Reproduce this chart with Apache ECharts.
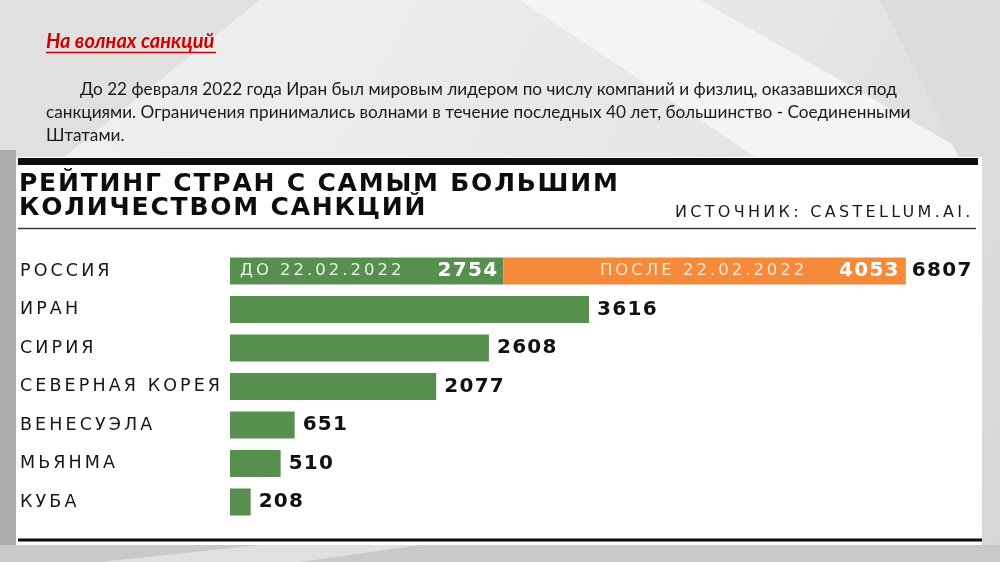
<!DOCTYPE html>
<html>
<head>
<meta charset="utf-8">
<script src="https://cdn.jsdelivr.net/npm/echarts@6/dist/echarts.min.js"></script>
<style>
html,body{margin:0;padding:0;background:#ececec;}
#main{width:1000px;height:562px;}
</style>
</head>
<body>
<div id="main"></div>
<script>
// ---- data ----
const countries = ['РОССИЯ', 'ИРАН', 'СИРИЯ', 'СЕВЕРНАЯ КОРЕЯ', 'ВЕНЕСУЭЛА', 'МЬЯНМА', 'КУБА'];
const beforeValues = [2754, 3616, 2608, 2077, 651, 510, 208];
const afterValues = [4053, null, null, null, null, null, null];
const periodCaptions = ['ДО 22.02.2022', 'ПОСЛЕ 22.02.2022'];
const chartTitle = ['РЕЙТИНГ СТРАН С САМЫМ БОЛЬШИМ', 'КОЛИЧЕСТВОМ САНКЦИЙ'];
const sourceText = 'ИСТОЧНИК: CASTELLUM.AI.';
const slideHeading = 'На волнах санкций';
const slideParagraph = [
  'До 22 февраля 2022 года Иран был мировым лидером по числу компаний и физлиц, оказавшихся под',
  'санкциями. Ограничения принимались волнами в течение последных 40 лет, большинство - Соединенными',
  'Штатами.'
];

const GREEN = '#578f4f';
const ORANGE = '#f58a3b';
const totals = beforeValues.map((b, i) => afterValues[i] != null ? b + afterValues[i] : null);
const blank = v => (v == null ? '-' : v);

const chart = echarts.init(document.getElementById('main'), null, {renderer: 'canvas'});

const valueFont = {fontFamily: 'DejaVu Sans', fontWeight: 'bold', fontSize: 20};
const slideFont = 'Lato, "Noto Sans", sans-serif';

const option = {
  backgroundColor: 'transparent',
  animation: false,
  grid: {left: 230, top: 251.75, width: 695, height: 269.5, containLabel: false, outerBoundsMode: 'none'},
  xAxis: {type: 'value', min: 0, max: 7000, show: false},
  yAxis: {
    type: 'category', data: countries, inverse: true, zlevel: 1,
    axisLine: {show: false}, axisTick: {show: false}, splitLine: {show: false},
    axisLabel: {interval: 0, align: 'left', margin: 210, color: '#161616', fontFamily: 'DejaVu Sans', fontSize: 17.5}
  },
  series: [
    {
      name: 'before', type: 'bar', stack: 'total', barWidth: 27, barGap: '-100%', silent: true,
      itemStyle: {color: GREEN},
      label: Object.assign({show: true, position: 'right', distance: 8, color: '#111'}, valueFont),
      data: beforeValues.map((v, i) => afterValues[i] != null
        ? {value: v, label: {position: 'insideRight', distance: 5, color: '#ffffff'}}
        : v)
    },
    {
      name: 'after', type: 'bar', stack: 'total', barWidth: 27, barGap: '-100%', silent: true,
      itemStyle: {color: ORANGE},
      label: Object.assign({show: true, position: 'insideRight', distance: 6, color: '#ffffff'}, valueFont),
      data: afterValues.map(blank)
    },
    {
      name: 'captionBefore', type: 'bar', stack: 'caption', zlevel: 5, barWidth: 27, barGap: '-100%', silent: true,
      itemStyle: {color: 'rgba(0,0,0,0)'},
      label: {show: true, position: 'insideLeft', distance: 10, color: '#e9f2e6', fontFamily: 'DejaVu Sans', fontSize: 16.5,
        formatter: () => periodCaptions[0]},
      data: beforeValues.map((v, i) => afterValues[i] != null ? v : '-')
    },
    {
      name: 'captionAfter', type: 'bar', stack: 'caption', zlevel: 5, barWidth: 27, barGap: '-100%', silent: true,
      itemStyle: {color: 'rgba(0,0,0,0)'},
      label: {show: true, position: 'inside', offset: [-1, 0], color: '#fde6d4', fontFamily: 'DejaVu Sans', fontSize: 16.5,
        formatter: () => periodCaptions[1]},
      data: afterValues.map(blank)
    },
    {
      name: 'total', type: 'bar', barWidth: 27, barGap: '-100%', silent: true,
      itemStyle: {color: 'rgba(0,0,0,0)'},
      label: Object.assign({show: true, position: 'right', distance: 6, color: '#111'}, valueFont),
      data: totals.map(blank)
    }
  ],
  graphic: {
    elements: [
      // slide background
      {type: 'rect', zlevel: 0, z: -20, shape: {x: 0, y: 0, width: 1000, height: 562},
        style: {fill: new echarts.graphic.LinearGradient(0, 0, 1, 1, [
          {offset: 0, color: '#f1f1f1'}, {offset: 0.6, color: '#e6e6e6'}, {offset: 1, color: '#d6d6d6'}])}},
      {type: 'polygon', zlevel: 0, z: -19, shape: {points: [[0, 0], [260, 0], [60, 160], [0, 160]]}, style: {fill: '#e0e0e0'}},
      {type: 'polygon', zlevel: 0, z: -19, shape: {points: [[520, 0], [700, 0], [980, 160], [760, 160]]}, style: {fill: '#f4f4f4'}},
      {type: 'polygon', zlevel: 0, z: -19, shape: {points: [[880, 0], [1000, 0], [1000, 160], [960, 160]]}, style: {fill: '#dcdcdc'}},
      {type: 'rect', zlevel: 0, z: -19, shape: {x: 0, y: 150, width: 16, height: 412}, style: {fill: '#adadad'}},
      {type: 'rect', zlevel: 0, z: -19, shape: {x: 0, y: 545, width: 1000, height: 17}, style: {fill: '#c9c9c9'}},
      {type: 'polygon', zlevel: 0, z: -18, shape: {points: [[100, 562], [260, 545], [420, 545], [300, 562]]}, style: {fill: '#e0e0e0'}},
      // white chart card
      {type: 'rect', zlevel: 0, z: -10, shape: {x: 16, y: 157, width: 966, height: 388}, style: {fill: '#ffffff'}},
      {type: 'rect', zlevel: 0, z: -9, shape: {x: 18, y: 158, width: 960, height: 7}, style: {fill: '#0d0d0d'}},
      {type: 'line', zlevel: 0, z: -9, shape: {x1: 18, y1: 228.5, x2: 976, y2: 228.5}, style: {stroke: '#3a3a3a', lineWidth: 1.5}},
      {type: 'rect', zlevel: 0, z: -9, shape: {x: 18, y: 538.5, width: 964, height: 3}, style: {fill: '#0d0d0d'}},
      // chart title
      {type: 'text', zlevel: 2, z: 5, style: {text: chartTitle[0], x: 19, y: 184.5, textVerticalAlign: 'middle',
        fill: '#0d0d0d', fontFamily: 'DejaVu Sans', fontWeight: 'bold', fontSize: 25}},
      {type: 'text', zlevel: 2, z: 5, style: {text: chartTitle[1], x: 19, y: 208.5, textVerticalAlign: 'middle',
        fill: '#0d0d0d', fontFamily: 'DejaVu Sans', fontWeight: 'bold', fontSize: 25}},
      // source
      {type: 'text', zlevel: 3, z: 5, style: {text: sourceText, x: 675, y: 213, textVerticalAlign: 'middle',
        fill: '#1a1a1a', fontFamily: 'DejaVu Sans', fontSize: 16}},
      // slide heading
      {type: 'text', zlevel: 4, z: 5, style: {text: slideHeading, x: 46, y: 42, textVerticalAlign: 'middle',
        fill: '#d00000', fontFamily: slideFont, fontWeight: 'bold', fontStyle: 'italic', fontSize: 20}},
      {type: 'line', zlevel: 4, z: 5, shape: {x1: 46, y1: 52.5, x2: 216, y2: 52.5}, style: {stroke: '#d00000', lineWidth: 1.5}},
      // paragraph
      {type: 'text', zlevel: 4, z: 5, style: {text: slideParagraph[0], x: 80, y: 89, textVerticalAlign: 'middle',
        fill: '#1a1a1a', fontFamily: slideFont, fontSize: 17.2}},
      {type: 'text', zlevel: 4, z: 5, style: {text: slideParagraph[1], x: 46, y: 112, textVerticalAlign: 'middle',
        fill: '#1a1a1a', fontFamily: slideFont, fontSize: 17.2}},
      {type: 'text', zlevel: 4, z: 5, style: {text: slideParagraph[2], x: 46, y: 135, textVerticalAlign: 'middle',
        fill: '#1a1a1a', fontFamily: slideFont, fontSize: 17.2}}
    ]
  }
};

chart.setOption(option);

// letter-spaced typography of the infographic (per canvas layer)
(function applySpacing() {
  try {
    const painter = chart.getZr().painter;
    const spacing = {0: '1.3px', 1: '3.1px', 2: '1.8px', 3: '3.3px', 5: '3px'};
    let applied = false;
    Object.keys(spacing).forEach(z => {
      const layer = painter.getLayer ? painter.getLayer(+z) : null;
      if (layer && layer.ctx && ('letterSpacing' in layer.ctx)) {
        layer.ctx.letterSpacing = spacing[z];
        applied = true;
      }
    });
    if (applied) painter.refresh(true);
  } catch (e) { /* keep default rendering */ }
})();
</script>
</body>
</html>
